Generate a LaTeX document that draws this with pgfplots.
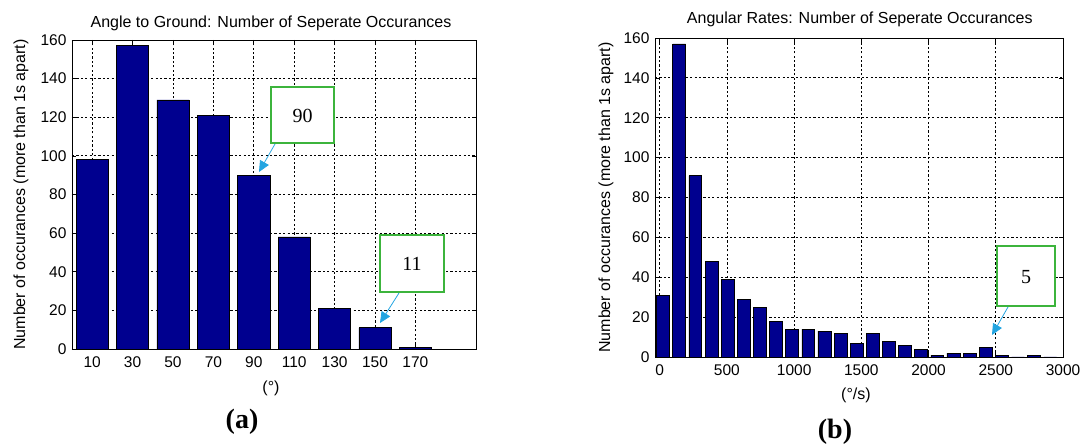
\documentclass[border=0pt]{standalone}
\usepackage{fontspec}
\setmainfont{Liberation Sans}
\newfontfamily\seriffont{Liberation Serif}
\usepackage{pgfplots}
\pgfplotsset{compat=1.18}
\usetikzlibrary{arrows.meta}
\definecolor{barblue}{RGB}{0,0,143}
\definecolor{boxgreen}{RGB}{60,180,60}
\definecolor{arrowblue}{RGB}{35,165,225}
\pgfplotsset{mystyle/.style={
  scale only axis, ybar,
  ymin=0, ymax=160, ytick={0,20,...,160},
  grid=major,
  major grid style={black, line width=0.75pt, dash pattern=on 2.2pt off 2.2pt},
  tick align=inside,
  major tick length=4pt,
  tick style={black, line width=0.7pt},
  axis line style={black, line width=0.9pt},
  tick label style={font=\fontsize{15.5}{18}\selectfont},
  xticklabel style={yshift=-4pt},
  yticklabel style={xshift=-2pt},
  label style={font=\fontsize{16}{19}\selectfont},
  title style={font=\fontsize{16}{19}\selectfont},
  /pgf/number format/assume math mode=true,
  /pgf/number format/1000 sep={},
}}
\begin{document}
\begin{tikzpicture}
\useasboundingbox (0,0) rectangle (1085pt,444pt);
\begin{axis}[mystyle, at={(72pt,95pt)}, anchor=south west,
  width=404pt, height=309pt, xmin=0, xmax=200, xtick={10,30,...,170},
  bar width=16,
  title={Angle to Ground: Number of Seperate Occurances},
  xlabel={(°)}, ylabel={Number of occurances (more than 1s apart)},
  title style={at={(axis description cs:0.4926,1.035)}, anchor=center, yshift=0pt},
  xlabel style={at={(axis description cs:0.4926,-0.128)}, anchor=center},
  ylabel style={at={(axis description cs:-0.126,0.5)}, anchor=center}]
\addplot[fill=barblue, draw=black, line width=0.6pt] coordinates {
(10,98) (30,157) (50,129) (70,121) (90,90) (110,58) (130,21) (150,11) (170,1)};
\end{axis}
\begin{axis}[mystyle, at={(655pt,87pt)}, anchor=south west,
  width=408pt, height=319pt, xmin=-35, xmax=3000, xtick={0,500,...,3000},
  bar width=96,
  title={Angular Rates: Number of Seperate Occurances},
  xlabel={(°/s)}, ylabel={Number of occurances (more than 1s apart)},
  title style={at={(axis description cs:0.502,1.041)}, anchor=center, yshift=0pt},
  xlabel style={at={(axis description cs:0.4926,-0.12)}, anchor=center},
  ylabel style={at={(axis description cs:-0.12,0.5)}, anchor=center}]
\addplot[fill=barblue, draw=black, line width=0.6pt] coordinates {
(25,31) (145,157) (265,91) (385,48) (505,39) (625,29) (745,25) (865,18)
(985,14) (1105,14) (1225,13) (1345,12) (1465,7) (1585,12) (1705,8) (1825,6)
(1945,4) (2065,1) (2185,2) (2305,2) (2425,5) (2545,1) (2665,0) (2785,1) (2905,0)};
\end{axis}
% callouts
\draw[boxgreen, line width=1.5pt, fill=white] (271pt,301pt) rectangle (334pt,357pt);
\node[font=\seriffont\fontsize{20}{22}\selectfont] at (302.5pt,328pt) {90};
\draw[arrowblue, line width=0.8pt, -{Triangle[length=11pt,width=10pt]}] (275pt,300pt) -- (259pt,272pt);
\draw[boxgreen, line width=1.5pt, fill=white] (380pt,152pt) rectangle (444pt,209pt);
\node[font=\seriffont\fontsize{20}{22}\selectfont] at (412pt,180pt) {11};
\draw[arrowblue, line width=0.8pt, -{Triangle[length=11pt,width=10pt]}] (399pt,151pt) -- (380pt,121pt);
\draw[boxgreen, line width=1.5pt, fill=white] (997pt,138pt) rectangle (1055pt,198pt);
\node[font=\seriffont\fontsize{20}{22}\selectfont] at (1026pt,167pt) {5};
\draw[arrowblue, line width=0.8pt, -{Triangle[length=11pt,width=10pt]}] (1008pt,137pt) -- (992pt,109pt);
\node[font=\seriffont\bfseries\fontsize{28}{30}\selectfont] at (242pt,22pt) {(a)};
\node[font=\seriffont\bfseries\fontsize{28}{30}\selectfont] at (835pt,12pt) {(b)};
\end{tikzpicture}
\end{document}
